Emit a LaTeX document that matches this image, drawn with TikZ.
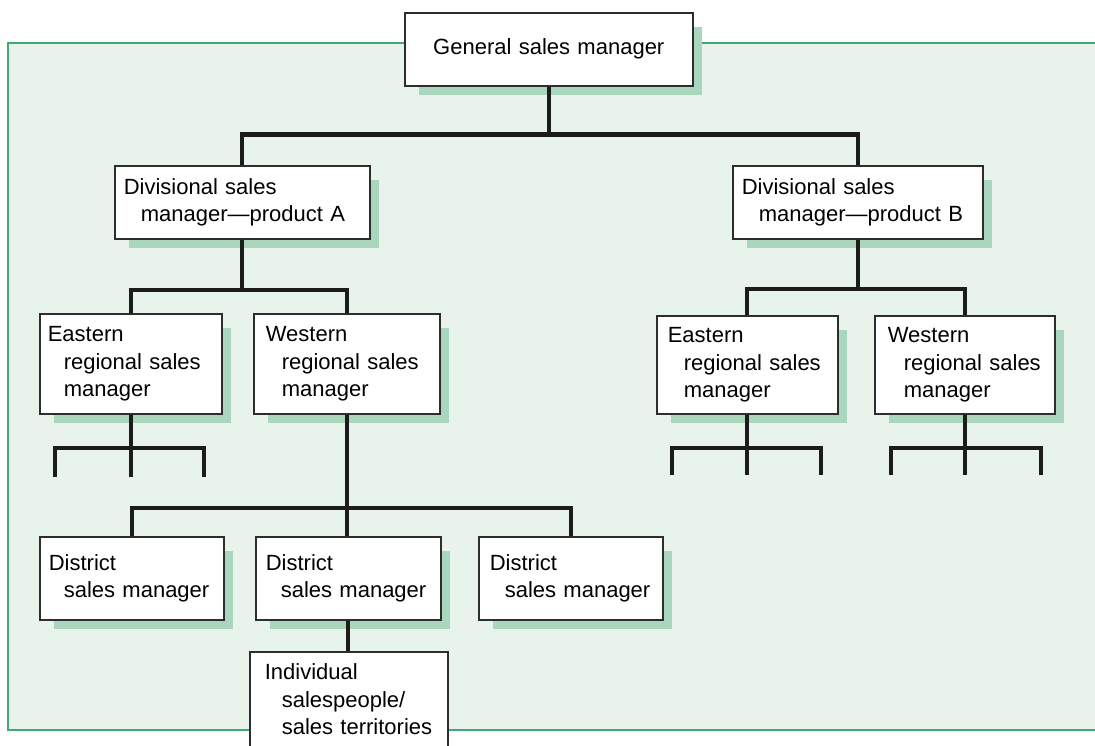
\documentclass[tikz,border=0pt]{standalone}
\usepackage{fontspec}
\setmainfont{Liberation Sans}
\pgfdeclarelayer{panel}
\pgfdeclarelayer{shade}
\pgfsetlayers{panel,shade,main}

\definecolor{panelfill}{RGB}{232,243,236}
\definecolor{panelline}{RGB}{66,168,118}
\definecolor{shadefill}{RGB}{170,214,190}
\definecolor{boxline}{RGB}{45,45,45}
\definecolor{linkline}{RGB}{28,28,28}

\newcommand\boxfont{\fontsize{22}{27.5}\selectfont\hyphenpenalty=10000\relax\exhyphenpenalty=10000\relax}

\tikzset{
  orgbox/.style={draw=boxline, line width=1.6pt, fill=white, anchor=north west,
    align=left, inner xsep=9pt, inner ysep=0pt, font=\boxfont, text=black},
  link/.style={draw=linkline, line width=4.2pt, line join=miter},
  drop/.style={fill=shadefill},
}

\begin{document}
\begin{tikzpicture}[x=1pt, y=-1pt]
\useasboundingbox (0,0) rectangle (1095,746);

% tinted panel behind the chart
\begin{pgfonlayer}{panel}
  \fill[panelfill] (8,43) rectangle (1100,730);
  \draw[panelline, line width=2pt] (1100,43) -- (8,43) -- (8,730) -- (1100,730);
\end{pgfonlayer}

% boxes
\node[orgbox, align=center, text width=270pt, minimum height=73pt] (gsm) at (404,12)
  {General sales manager};

\node[orgbox, text width=237pt, minimum height=73pt] (divA) at (114,165)
  {Divisional~sales\\\hspace*{17pt}manager—product~A};
\node[orgbox, text width=232pt, minimum height=73pt] (divB) at (732,165)
  {Divisional~sales\\\hspace*{17pt}manager—product~B};

\node[orgbox, inner xsep=8pt, text width=166pt, minimum height=100pt] (eastA) at (39,313)
  {Eastern\\\hspace*{16pt}regional~sales\\\hspace*{16pt}manager};
\node[orgbox, inner xsep=12pt, text width=162pt, minimum height=100pt] (westA) at (253,313)
  {Western\\\hspace*{16pt}regional~sales\\\hspace*{16pt}manager};
\node[orgbox, inner xsep=11pt, text width=159pt, minimum height=98pt] (eastB) at (656,315)
  {Eastern\\\hspace*{16pt}regional~sales\\\hspace*{16pt}manager};
\node[orgbox, inner xsep=13pt, text width=154pt, minimum height=98pt] (westB) at (874,315)
  {Western\\\hspace*{16pt}regional~sales\\\hspace*{16pt}manager};

\node[orgbox, inner xsep=9pt, text width=166pt, minimum height=83pt] (dist1) at (39,536)
  {District\\\hspace*{15pt}sales~manager};
\node[orgbox, inner xsep=10pt, text width=165pt, minimum height=83pt] (dist2) at (255,536)
  {District\\\hspace*{15pt}sales~manager};
\node[orgbox, inner xsep=11pt, text width=162pt, minimum height=83pt] (dist3) at (478,536)
  {District\\\hspace*{15pt}sales~manager};

\node[orgbox, inner xsep=15pt, inner ysep=12pt, text width=168pt] (indiv) at (249,651)
  {Individual\\\hspace*{17pt}salespeople/\\\hspace*{17pt}sales~territories};

% drop shadows
\begin{pgfonlayer}{shade}
  \foreach \n in {gsm,divA,divB,eastA,westA,eastB,westB,dist1,dist2,dist3}
    \fill[drop] ([shift={(15,15)}]\n.north west) rectangle ([shift={(8,8)}]\n.south east);
\end{pgfonlayer}

% open ends of the regional branches
\coordinate (ea1) at (55,477);  \coordinate (ea3) at (204,477);
\coordinate (eb1) at (672,475); \coordinate (eb3) at (821,475);
\coordinate (wb1) at (891,475); \coordinate (wb3) at (1041,475);

% connectors
\draw[link] (gsm.south) -- ([yshift=-48pt]gsm.south);
\draw[link] (divA.north) |- ([yshift=-48pt]gsm.south) -| (divB.north);

\draw[link] (divA.south) -- ([yshift=-50pt]divA.south);
\draw[link] (eastA.north) |- ([yshift=-50pt]divA.south) -| (westA.north);

\draw[link] (divB.south) -- ([yshift=-49pt]divB.south);
\draw[link] (eastB.north) |- ([yshift=-49pt]divB.south) -| (westB.north);

\draw[link] (eastA.south) -- (eastA.south |- ea1);
\draw[link] (ea1) |- ([yshift=-33pt]eastA.south) -| (ea3);

\draw[link] (eastB.south) -- (eastB.south |- eb1);
\draw[link] (eb1) |- ([yshift=-33pt]eastB.south) -| (eb3);

\draw[link] (westB.south) -- (westB.south |- wb1);
\draw[link] (wb1) |- ([yshift=-33pt]westB.south) -| (wb3);

\draw[link] (westA.south) -- (westA.south |- dist2.north);
\draw[link] (dist1.north) |- ([yshift=-93pt]westA.south) -| (dist3.north);

\draw[link] (dist2.south) -- (dist2.south |- indiv.north);
\end{tikzpicture}
\end{document}
